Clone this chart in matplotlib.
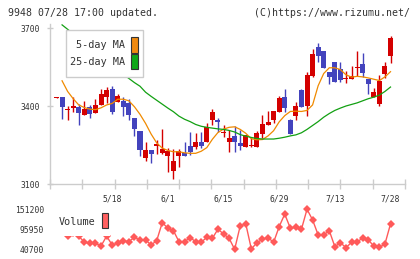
import numpy as np
import matplotlib
matplotlib.use("Agg")
import matplotlib.pyplot as plt
from matplotlib.patches import Rectangle

# ---------------- data ----------------
opens  = [3432, 3433, 3384, 3392, 3395, 3365, 3395, 3374, 3403, 3436,
          3465, 3415, 3419, 3410, 3353, 3304, 3201, 3231, 3248, 3220,
          3209, 3151, 3209, 3218, 3246, 3243, 3263, 3263, 3346, 3346,
          3295, 3263, 3285, 3256, 3244, 3245, 3243, 3292, 3327, 3346,
          3378, 3433, 3346, 3363, 3461, 3401, 3517, 3626, 3613, 3530,
          3568, 3542, 3502, 3503, 3548, 3562, 3503, 3436, 3408, 3523, 3594]
highs  = [3436, 3433, 3400, 3433, 3408, 3419, 3404, 3428, 3467, 3474,
          3477, 3446, 3436, 3426, 3353, 3304, 3263, 3231, 3269, 3312,
          3237, 3233, 3233, 3260, 3299, 3297, 3301, 3333, 3388, 3354,
          3327, 3308, 3324, 3308, 3289, 3276, 3302, 3365, 3381, 3381,
          3438, 3465, 3350, 3417, 3465, 3530, 3619, 3641, 3613, 3530,
          3568, 3568, 3534, 3554, 3611, 3603, 3503, 3468, 3519, 3570, 3669]
lows   = [3430, 3349, 3346, 3377, 3328, 3365, 3354, 3374, 3403, 3410,
          3368, 3415, 3362, 3346, 3286, 3209, 3190, 3182, 3215, 3215,
          3147, 3118, 3164, 3209, 3212, 3235, 3237, 3263, 3327, 3299,
          3280, 3224, 3222, 3231, 3244, 3243, 3243, 3276, 3327, 3336,
          3378, 3378, 3292, 3346, 3397, 3363, 3513, 3568, 3545, 3483,
          3494, 3494, 3490, 3503, 3517, 3510, 3446, 3436, 3401, 3507, 3567]
closes = [3434, 3397, 3386, 3400, 3374, 3388, 3368, 3403, 3446, 3462,
          3378, 3438, 3397, 3365, 3312, 3231, 3231, 3217, 3252, 3235,
          3227, 3190, 3227, 3209, 3223, 3263, 3246, 3320, 3377, 3337,
          3297, 3276, 3260, 3246, 3289, 3247, 3297, 3331, 3340, 3381,
          3432, 3393, 3292, 3400, 3397, 3519, 3600, 3594, 3545, 3510,
          3494, 3500, 3504, 3515, 3550, 3526, 3485, 3455, 3497, 3554, 3660]
ma5 = [np.nan, 3497, 3456, 3428, 3404, 3394, 3388, 3386, 3393, 3404,
       3410, 3426, 3426, 3420, 3397, 3368, 3333, 3292, 3258, 3238,
       3229, 3224, 3224, 3220, 3218, 3218, 3226, 3240, 3272, 3298,
       3311, 3318, 3320, 3310, 3295, 3274, 3270, 3271, 3285, 3305,
       3339, 3363, 3379, 3380, 3379, 3383, 3404, 3478, 3525, 3547,
       3547, 3540, 3520, 3511, 3514, 3512, 3508, 3503, 3498, 3512, 3532]
ma25 = [np.nan, 3712, 3695, 3678, 3660, 3643, 3626, 3608, 3591, 3574,
        3556, 3539, 3522, 3506, 3490, 3476, 3453, 3437, 3422, 3407,
        3392, 3378, 3361, 3349, 3340, 3329, 3322, 3318, 3315, 3312,
        3310, 3306, 3300, 3290, 3284, 3279, 3275, 3273, 3273, 3273,
        3276, 3280, 3285, 3289, 3297, 3310, 3325, 3340, 3357, 3371,
        3383, 3392, 3400, 3406, 3412, 3420, 3428, 3434, 3442, 3456, 3473]
volume = [88000, 90000, 77000, 86000, 77000, 60100, 57400, 57400, 49900, 77000,
          52600, 57400, 64600, 61800, 74000, 66500, 66500, 52600, 64600, 114500,
          99000, 92300, 61800, 61800, 72900, 61800, 60100, 74000, 71200, 96200,
          83200, 71200, 40700, 105400, 110900, 41500, 59000, 68500, 72900, 60100,
          103400, 137900, 99000, 101800, 96200, 151200, 122000, 80400, 80400, 92300,
          47900, 59000, 45100, 60100, 61800, 71200, 66500, 49900, 46200, 55400, 110900]
date_ticks = [10, 20, 30, 40, 50, 60]
date_labels = ['5/18', '6/1', '6/15', '6/29', '7/13', '7/28']
price_ticks = [3100, 3400, 3700]
vol_ticks = [40700, 95950, 151200]

# ---------------- figure ----------------
W, H = 420, 259
fig = plt.figure(figsize=(W / 100, H / 100), dpi=100)
fig.patch.set_facecolor('white')
MONO = 'DejaVu Sans Mono'
TXT = '#333333'
GRID = '#cccccc'
UP = '#d40000'
DOWN = '#4343bd'

def fx(px):
    return px / W

def fy(py):
    return 1 - py / H

x = np.arange(len(closes))
px_per_idx = 5.567
x0 = 56.5
xlim = ((50 - x0) / px_per_idx, (405 - x0) / px_per_idx)
ypp = 300 / 78.0

ax = fig.add_axes([fx(50), fy(184), fx(405) - fx(50), (184 - 24) / H])
ax.set_xlim(*xlim)
ax.set_ylim(3100, 3100 + 160 * ypp)

o = np.array(opens); c = np.array(closes); hi = np.array(highs); lo = np.array(lows)
up = c >= o
cols = np.where(up, UP, DOWN)
minh = 1.0 * ypp
bottoms = np.minimum(o, c)
heights = np.maximum(np.abs(c - o), minh)
ax.vlines(x, lo, hi, colors=cols, linewidth=1.0, zorder=2)
ax.bar(x, heights, bottom=bottoms, width=0.9, color=cols, linewidth=0, zorder=3)

ax.plot(x, ma5, color='#f08a00', linewidth=0.9, zorder=4)
ax.plot(x, ma25, color='#12a012', linewidth=0.9, zorder=4, clip_on=False)

for s in ['top', 'right']:
    ax.spines[s].set_visible(False)
for s in ['left', 'bottom']:
    ax.spines[s].set_color(GRID)
    ax.spines[s].set_linewidth(1.0)

ax.set_yticks(price_ticks)
ax.set_yticklabels([str(v) for v in price_ticks], fontfamily=MONO, fontsize=5.8, color=TXT)
ax.tick_params(axis='y', direction='inout', length=5, width=1.0, color=GRID, pad=5.0)
ax.set_xticks(date_ticks)
ax.set_xticklabels(date_labels, fontfamily=MONO, fontsize=5.8, color=TXT)
ax.tick_params(axis='x', which='major', length=0, pad=7.2)
ax.set_xticks(np.linspace(xlim[0], xlim[1], 12), minor=True)
ax.tick_params(axis='x', which='minor', direction='inout', length=6.5, width=1.0, color=GRID)

# legend box for moving averages
fig.add_artist(Rectangle((fx(65.7), fy(77.3)), fx(143.3) - fx(65.7), (77.3 - 30) / H,
                         transform=fig.transFigure, facecolor='white', edgecolor=GRID,
                         linewidth=1.0, zorder=5))
fig.text(fx(125), fy(45), '5-day MA', ha='right', va='center', fontfamily=MONO,
         fontsize=7.3, color=TXT, zorder=6)
fig.text(fx(125), fy(61.7), '25-day MA', ha='right', va='center', fontfamily=MONO,
         fontsize=7.3, color=TXT, zorder=6)
fig.add_artist(Rectangle((fx(131), fy(52.7)), 6.5 / W, 15.4 / H, transform=fig.transFigure,
                         facecolor='#f08a10', edgecolor='#333333', linewidth=0.8, zorder=6))
fig.add_artist(Rectangle((fx(131), fy(69.3)), 6.5 / W, 15.3 / H, transform=fig.transFigure,
                         facecolor='#10a818', edgecolor='#333333', linewidth=0.8, zorder=6))

# ---------------- volume panel ----------------
axv = fig.add_axes([fx(50), fy(249.3), fx(405) - fx(50), 40 / H])
axv.set_xlim(*xlim)
axv.set_ylim(40700, 151200)
axv.plot(x, volume, color='#ff5a5a', linewidth=1.0, marker='D', markersize=4.0,
         markeredgewidth=0, clip_on=False)
for s in axv.spines.values():
    s.set_visible(False)
axv.set_xticks([])
axv.set_yticks(vol_ticks)
axv.set_yticklabels([str(v) for v in vol_ticks], fontfamily=MONO, fontsize=5.8, color=TXT)
axv.tick_params(axis='y', length=0, pad=4.3)

fig.add_artist(Rectangle((fx(50), fy(235.5)), fx(109.5) - fx(50), (235.5 - 205) / H,
                         transform=fig.transFigure, facecolor='white', edgecolor='none', zorder=5))
fig.text(fx(95.5), fy(222), 'Volume', ha='right', va='center', fontfamily=MONO,
         fontsize=7.3, color=TXT, zorder=6)
fig.add_artist(Rectangle((fx(101.7), fy(228.3)), 5.8 / W, 15 / H, transform=fig.transFigure,
                         facecolor='#ff6060', edgecolor='#333333', linewidth=0.8, zorder=6))

# ---------------- header texts ----------------
fig.text(fx(8.3), fy(12.5), '9948 07/28 17:00 updated.', ha='left', va='center',
         fontfamily=MONO, fontsize=7.1, color=TXT)
fig.text(fx(410), fy(12.5), '(C)https://www.rizumu.net/', ha='right', va='center',
         fontfamily=MONO, fontsize=7.1, color=TXT)

fig.savefig('out.png', dpi=100, facecolor='white')
